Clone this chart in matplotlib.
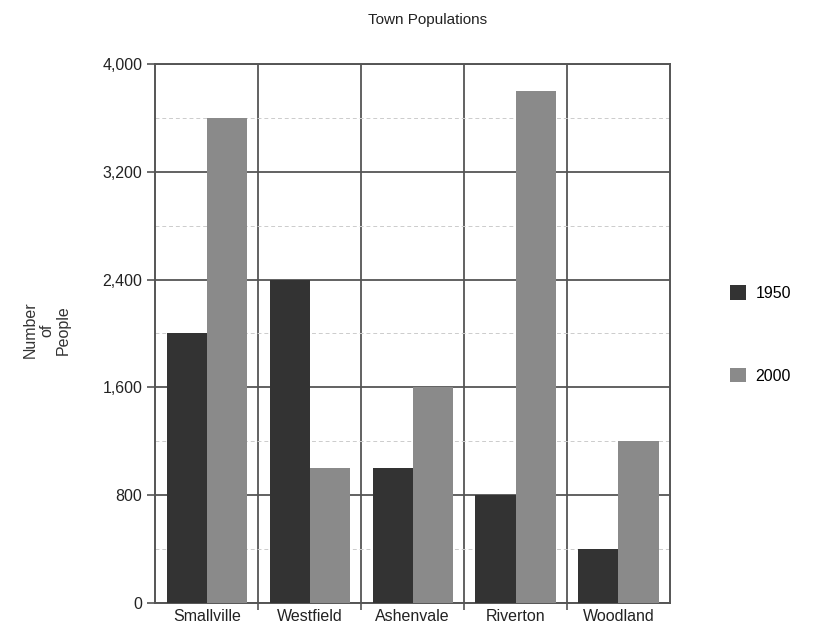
import matplotlib

matplotlib.use("Agg")
import matplotlib.pyplot as plt
import numpy as np
from matplotlib.ticker import FixedLocator, FuncFormatter

towns = ["Smallville", "Westfield", "Ashenvale", "Riverton", "Woodland"]
pop_1950 = [2000, 2400, 1000, 800, 400]
pop_2000 = [3600, 1000, 1600, 3800, 1200]
y_ticks = [0, 800, 1600, 2400, 3200, 4000]

plt.rcParams["font.family"] = ["Liberation Sans", "DejaVu Sans"]

fig = plt.figure(figsize=(8.18, 6.31), dpi=100)
ax = fig.add_axes([0.19, 0.044, 0.629, 0.855])

x = np.arange(len(towns))
w = 0.39
ax.bar(x - w / 2, pop_1950, width=w, color="#333333", label="1950", zorder=3)
ax.bar(x + w / 2, pop_2000, width=w, color="#8a8a8a", label="2000", zorder=3)

ax.set_xlim(-0.5, len(towns) - 0.5)
ax.set_ylim(0, 4000)

# major grid at 800, faint dashed minor at 400
ax.set_yticks(y_ticks)
ax.yaxis.set_major_formatter(FuncFormatter(lambda v, _: f"{int(v):,}"))
ax.yaxis.set_minor_locator(FixedLocator([400, 1200, 2000, 2800, 3600]))
ax.grid(axis="y", which="major", color="#555555", lw=1.3, zorder=1)
ax.grid(axis="y", which="minor", color="#cccccc", lw=0.7, ls=(0, (4, 3)), zorder=1)
ax.tick_params(axis="y", which="minor", length=0)

# category separators
ax.set_xticks(x)
ax.set_xticklabels(towns)
ax.xaxis.set_minor_locator(FixedLocator(np.arange(0.5, len(towns) - 0.5, 1)))
ax.grid(axis="x", which="minor", color="#555555", lw=1.3, zorder=1)
ax.tick_params(axis="x", which="major", length=0, pad=4, labelsize=11.5, colors="#222222")
ax.tick_params(axis="x", which="minor", length=5, width=1.2, color="#555555")
ax.tick_params(axis="y", which="major", length=6, width=1.2, color="#555555",
               labelsize=11.5, labelcolor="#222222")

for s in ax.spines.values():
    s.set_color("#555555")
    s.set_linewidth(1.4)

fig.text(0.523, 0.968, "Town Populations", ha="center", va="center",
         fontsize=11, color="#222222")
fig.text(0.057, 0.477, "Number\nof\nPeople", ha="center", va="center",
         rotation=90, fontsize=11.5, color="#333333", linespacing=1.1)

fig.legend(loc="center left", bbox_to_anchor=(0.875, 0.47), frameon=False,
           handlelength=1.0, handleheight=1.0, labelspacing=4.2,
           fontsize=11.5, handletextpad=0.6)

fig.savefig("out.png", dpi=100)
